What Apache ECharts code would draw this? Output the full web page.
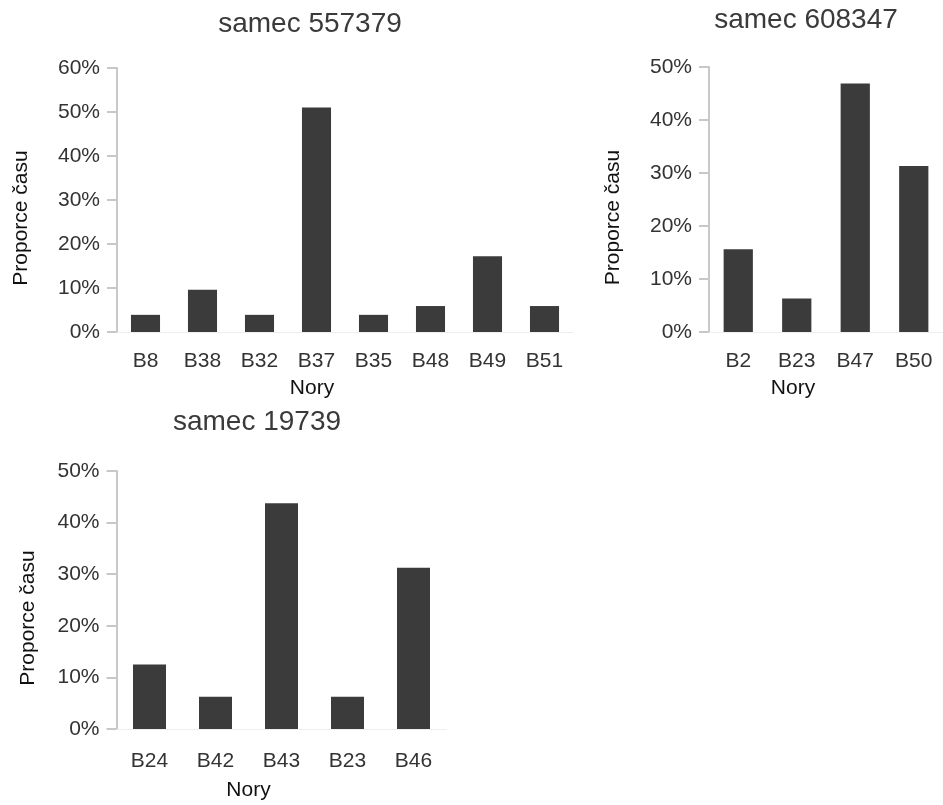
<!DOCTYPE html>
<html>
<head>
<meta charset="utf-8">
<script src="https://cdn.jsdelivr.net/npm/echarts@6/dist/echarts.min.js"></script>
<style>
html,body{margin:0;padding:0;background:#fff;}
#chart{width:943px;height:805px;}
</style>
</head>
<body>
<div id="chart"></div>
<script>
// Chart 1: samec 557379
const titles = ['samec 557379', 'samec 608347', 'samec 19739'];
const cats1 = ['B8', 'B38', 'B32', 'B37', 'B35', 'B48', 'B49', 'B51'];
const vals1 = [3.9, 9.6, 3.9, 51.0, 3.9, 5.9, 17.2, 5.9];
// Chart 2: samec 608347
const cats2 = ['B2', 'B23', 'B47', 'B50'];
const vals2 = [15.6, 6.3, 46.9, 31.3];
// Chart 3: samec 19739
const cats3 = ['B24', 'B42', 'B43', 'B23', 'B46'];
const vals3 = [12.5, 6.25, 43.75, 6.25, 31.25];
// Axis settings
const yMax = [60, 50, 50];
const yInterval = 10;
const xName = 'Nory';
const yName = 'Proporce času';

const FONT = 'Liberation Sans';
const TXT = '#333';

function yAxis(idx, max, gap) {
  return {
    type: 'value', gridIndex: idx, min: 0, max: max, interval: yInterval,
    splitLine: {show: false},
    axisLine: {show: true, lineStyle: {color: '#c8c8c8', width: 2}},
    axisTick: {show: true, length: 10, lineStyle: {color: '#c8c8c8', width: 2}},
    axisLabel: {formatter: '{value}%', fontFamily: FONT, fontSize: 21, color: TXT, margin: 17},
    name: yName, nameLocation: 'middle', nameGap: gap,
    nameTextStyle: {fontFamily: FONT, fontSize: 21, color: '#111', padding: [0, 36, 0, 0]}
  };
}
function xAxis(idx, cats, labelMargin, nameGap) {
  return {
    type: 'category', gridIndex: idx, data: cats,
    axisLine: {show: true, lineStyle: {color: '#eeeeee', width: 1}},
    axisTick: {show: false},
    axisLabel: {fontFamily: FONT, fontSize: 21, color: TXT, margin: labelMargin, interval: 0},
    name: xName, nameLocation: 'middle', nameGap: nameGap,
    nameTextStyle: {fontFamily: FONT, fontSize: 21, color: '#111', padding: [0, 66, 0, 0]}
  };
}
function bars(idx, vals, w) {
  return {
    type: 'bar', xAxisIndex: idx, yAxisIndex: idx, data: vals, barWidth: w,
    itemStyle: {color: '#3b3b3b'}, silent: true
  };
}

const chart = echarts.init(document.getElementById('chart'), null, {renderer: 'canvas'});
const titleStyle = {fontFamily: FONT, fontSize: 28, fontWeight: 'normal', color: '#3a3a3a'};
chart.setOption({
  animation: false,
  backgroundColor: '#ffffff',
  title: [
    {text: titles[0], left: 305, top: 5, textAlign: 'center', textStyle: titleStyle},
    {text: titles[1], left: 801, top: 1, textAlign: 'center', textStyle: titleStyle},
    {text: titles[2], left: 252, top: 403, textAlign: 'center', textStyle: titleStyle}
  ],
  grid: [
    {left: 117, top: 68, width: 456, height: 264},
    {left: 709, top: 67, width: 243, height: 265},
    {left: 116.5, top: 471, width: 330, height: 258}
  ],
  xAxis: [xAxis(0, cats1, 19, 46), xAxis(1, cats2, 19, 46), xAxis(2, cats3, 22, 51)],
  yAxis: [yAxis(0, yMax[0], 85), yAxis(1, yMax[1], 85), yAxis(2, yMax[2], 78)],
  series: [bars(0, vals1, '51%'), bars(1, vals2, '50%'), bars(2, vals3, '50%')]
});
</script>
</body>
</html>
